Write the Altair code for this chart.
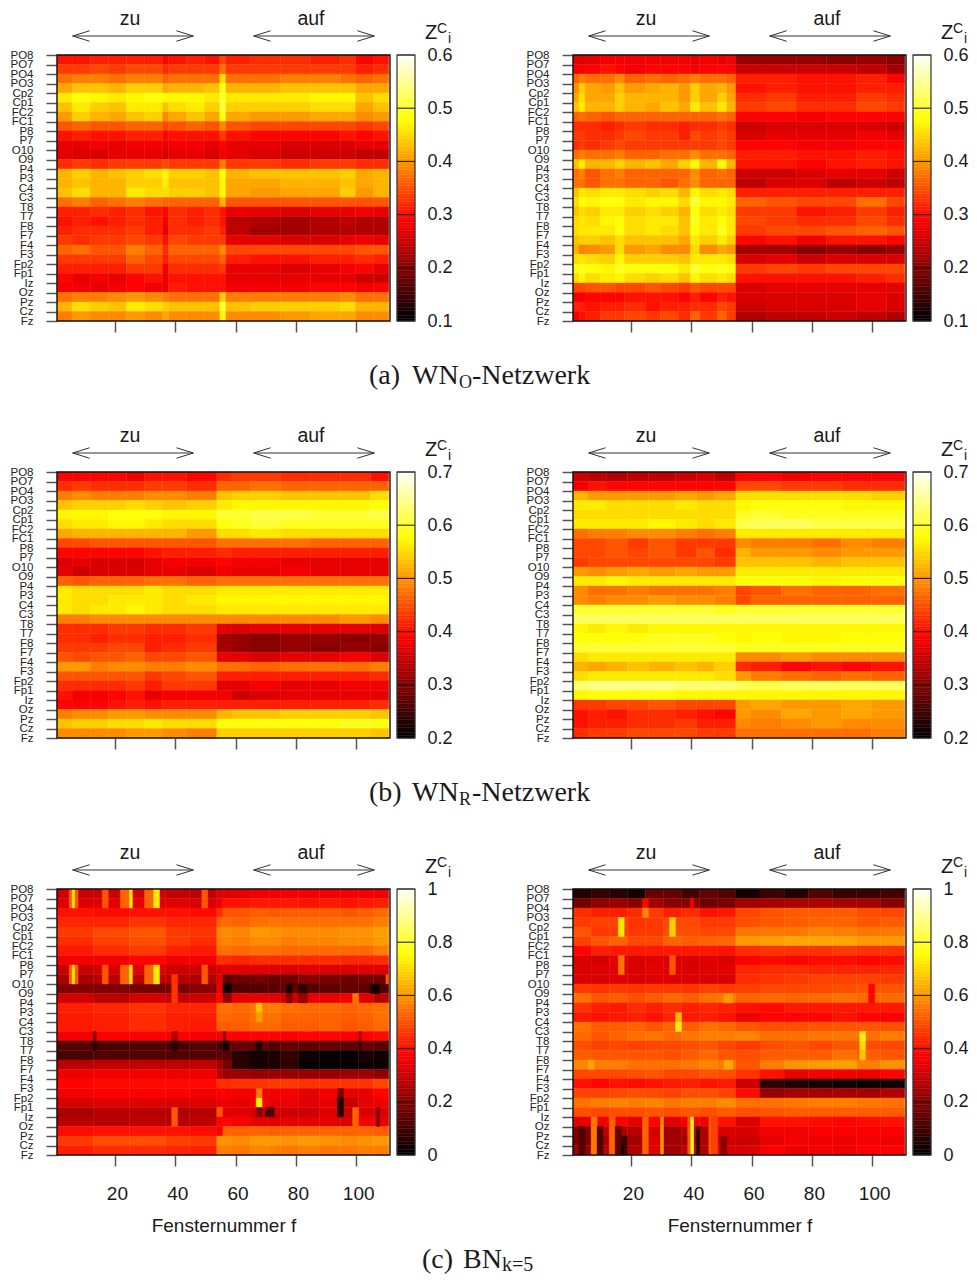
import altair as alt
import numpy as np
import pandas as pd

CHANNELS = ["PO8","PO7","PO4","PO3","Cp2","Cp1","FC2","FC1","P8","P7","O10","O9","P4","P3","C4","C3",
            "T8","T7","F8","F7","F4","F3","Fp2","Fp1","Iz","Oz","Pz","Cz","Fz"]
X_TICKS = [20, 40, 60, 80, 100]
HOT_STOPS = [0, 0.375, 0.75, 1]
HOT_COLORS = ["#000000", "#ff0000", "#ffff00", "#ffffff"]

# Window-block start numbers per panel, then one row of values (in hundredths) per block.
A1_EDGES = [1,6,12,18,24,30,36,38,44,50,55,57,65,75,85,95,100,106,111]
A1 = [
[30,30,31,31,31,31,29,30,31,30,34,31,32,32,31,32,29,30],
[33,33,34,33,34,34,32,33,33,33,37,33,33,33,33,33,31,32],
[37,38,38,37,38,38,36,37,37,37,45,37,37,38,38,37,36,37],
[41,43,43,42,44,44,41,42,42,43,48,42,42,43,43,43,41,41],
[46,48,47,46,47,48,47,47,47,46,50,46,46,46,47,47,43,45],
[43,46,44,43,46,46,43,45,46,44,50,44,44,44,45,45,41,43],
[40,44,42,41,43,44,39,41,43,41,48,41,40,40,41,41,39,40],
[35,36,35,35,36,36,34,35,36,35,39,35,34,34,34,34,33,34],
[30,31,30,30,31,31,29,30,30,30,33,30,29,29,29,30,29,30],
[27,27,28,27,28,28,27,28,28,27,29,27,27,26,26,26,27,27],
[27,26,26,27,27,27,26,27,27,26,28,27,26,25,25,25,24,24],
[32,33,32,33,33,33,34,33,33,33,38,33,33,32,33,33,32,32],
[42,44,42,43,44,45,47,44,44,43,48,42,43,43,43,44,41,42],
[42,43,42,42,44,44,46,43,43,43,47,41,41,42,42,43,41,42],
[43,45,42,42,46,45,45,44,44,43,47,41,40,41,41,44,40,42],
[37,38,36,37,38,37,36,36,36,36,42,35,35,35,35,35,35,35],
[31,31,32,31,32,30,29,32,31,32,30,27,27,26,27,27,28,27],
[30,31,30,31,32,31,28,32,31,32,30,24,23,22,23,24,23,23],
[31,32,32,32,33,31,27,32,32,33,31,24,22,22,23,23,23,23],
[33,32,33,33,34,33,30,34,33,33,33,27,27,26,26,27,28,27],
[36,37,35,35,38,36,32,36,36,36,39,34,34,34,34,34,35,35],
[33,33,33,33,36,34,31,34,34,34,36,31,30,30,31,31,32,31],
[31,31,31,31,33,33,28,32,32,32,33,27,27,26,27,28,29,27],
[29,27,28,27,29,30,27,30,30,30,30,27,27,27,27,27,25,25],
[28,28,27,28,29,28,27,31,30,30,30,28,28,28,29,29,28,29],
[37,38,38,39,40,39,38,37,37,37,44,38,38,38,38,39,37,37],
[42,45,44,43,46,45,44,43,43,43,50,43,44,44,44,45,42,42],
[38,40,39,39,40,39,41,39,39,39,47,39,39,40,41,41,39,39],
]
A2_EDGES = [1,3,5,10,15,18,25,30,36,40,43,49,52,55,65,75,85,95,105,111]
A2 = [
[27,26,27,28,28,28,28,28,28,27,28,27,28,21,21,21,20,21,20],
[28,28,29,30,29,28,29,29,29,28,29,29,29,25,25,25,25,24,22],
[36,38,37,37,39,36,37,36,37,38,37,37,36,31,31,30,30,31,29],
[39,44,41,40,43,40,41,42,40,44,41,42,40,30,31,30,30,31,31],
[41,45,41,41,44,42,42,42,40,44,41,44,41,32,33,31,31,33,32],
[43,46,42,42,44,42,41,43,41,46,43,46,42,33,34,32,32,34,33],
[36,37,36,35,36,36,36,36,36,36,36,37,36,29,29,28,29,29,29],
[32,32,32,31,32,33,32,32,31,32,32,33,32,25,26,26,26,26,25],
[33,33,32,32,33,34,33,33,31,34,33,34,33,26,27,27,27,28,27],
[32,33,32,33,34,33,33,33,33,33,33,34,33,29,29,28,28,29,29],
[37,38,37,37,38,36,36,37,37,39,37,37,36,31,31,30,30,31,30],
[43,46,42,42,44,42,43,41,44,47,42,47,42,30,30,29,30,31,30],
[37,38,35,37,38,36,36,36,36,39,36,37,36,25,25,26,27,27,25],
[37,37,35,37,37,36,36,35,37,39,36,36,36,24,26,26,24,25,24],
[43,46,45,46,46,45,44,45,42,47,45,46,45,31,31,31,31,31,31],
[45,48,47,48,48,46,47,47,45,50,47,47,46,36,35,34,34,37,34],
[43,45,44,46,46,44,45,44,42,48,45,46,45,33,33,30,31,33,31],
[45,46,45,47,48,45,46,46,43,49,46,48,46,34,33,32,32,34,32],
[45,46,46,46,48,45,46,45,43,48,46,49,46,33,34,34,35,36,35],
[43,44,44,43,45,43,43,43,41,46,44,46,44,29,30,28,30,30,29],
[42,38,39,40,45,40,41,39,39,45,39,41,40,22,22,20,21,20,21],
[45,46,45,44,47,44,44,44,43,46,46,46,45,26,27,25,26,26,26],
[48,49,48,47,49,48,48,48,46,50,48,49,48,33,34,33,34,34,34],
[45,47,45,46,47,45,44,45,43,47,45,46,45,30,30,30,30,31,32],
[34,34,35,35,34,34,35,34,33,35,34,34,34,26,27,27,27,27,27],
[28,28,29,29,29,30,30,30,29,31,29,31,30,26,26,26,26,27,26],
[31,31,30,31,31,32,30,31,31,32,32,34,33,25,26,26,26,27,26],
[28,30,31,33,33,34,33,34,32,36,33,36,33,23,24,24,25,24,23],
]
B1_EDGES = [1,6,12,18,24,30,36,44,54,59,65,75,85,95,105,111]
B1 = [
[39,39,39,39,38,40,40,39,42,43,43,42,42,42,40],
[42,43,42,42,42,43,43,42,46,46,47,46,46,46,46],
[48,49,48,48,48,49,49,48,53,54,54,53,53,53,55],
[53,54,54,54,55,54,53,54,56,57,57,57,57,57,58],
[57,57,57,58,58,58,57,57,60,60,61,61,60,60,61],
[55,56,56,57,57,56,55,55,58,59,60,59,59,59,59],
[51,52,52,52,52,52,52,50,55,55,56,55,55,55,55],
[44,44,45,45,45,45,45,45,47,47,47,47,46,46,46],
[39,39,39,39,39,40,41,41,42,41,41,41,41,41,41],
[36,37,36,36,36,37,38,38,39,38,38,37,37,37,37],
[37,35,36,36,36,37,37,36,38,37,37,38,37,37,37],
[46,45,46,46,46,47,47,46,47,47,47,47,47,47,47],
[56,55,55,55,55,56,55,55,56,56,56,56,56,56,56],
[56,55,55,56,56,56,55,56,57,57,57,57,57,57,57],
[56,55,56,56,57,56,55,55,56,56,56,56,56,56,56],
[48,48,49,49,49,49,49,49,49,49,49,49,49,50,49],
[42,42,42,43,43,42,42,43,37,36,37,37,37,37,36],
[42,42,41,42,42,41,41,42,32,31,30,31,31,30,31],
[43,43,43,44,44,41,42,43,32,31,30,31,30,31,30],
[45,44,45,45,46,44,44,45,37,37,36,37,37,38,36],
[50,50,48,49,49,48,48,49,47,47,46,47,47,47,48],
[45,45,45,45,45,43,44,45,41,41,41,41,41,41,42],
[42,42,42,42,43,41,43,43,37,37,38,37,37,38,38],
[40,38,38,39,40,37,38,38,38,35,36,37,37,37,37],
[39,39,39,40,41,40,41,41,41,41,41,41,41,41,42],
[48,49,49,50,50,49,49,49,52,53,53,54,54,54,53],
[53,54,54,55,55,56,55,55,58,58,58,58,58,59,58],
[49,49,49,49,50,50,49,48,54,54,54,54,54,54,53],
]
B2_EDGES = [1,6,12,19,26,35,42,48,55,60,70,80,90,100,111]
B2 = [
[35,34,33,34,34,35,36,34,39,39,38,39,39,39],
[38,40,39,39,39,39,39,39,44,44,43,43,42,42],
[52,50,50,50,50,51,50,51,55,55,55,55,55,54],
[56,56,55,55,55,56,55,55,57,58,58,58,57,57],
[55,55,55,55,55,55,55,55,59,60,59,59,59,59],
[56,56,56,56,57,56,55,56,61,62,62,61,61,61],
[47,48,48,49,49,48,47,48,56,56,56,56,56,56],
[44,44,45,43,45,43,43,43,49,48,48,47,49,48],
[44,44,45,44,45,43,45,42,52,50,50,49,50,50],
[43,44,44,44,44,44,44,43,53,53,53,52,53,53],
[50,49,50,51,50,51,50,50,56,56,56,56,56,56],
[56,56,57,56,56,56,56,56,58,58,58,57,58,58],
[49,47,47,48,47,47,47,48,44,45,47,46,46,47],
[49,48,49,49,50,49,49,48,44,46,46,46,46,46],
[60,60,60,60,60,60,60,59,60,60,60,60,60,60],
[62,62,62,62,62,62,62,62,62,62,62,62,62,62],
[57,56,57,56,57,57,57,57,57,57,57,57,57,57],
[58,58,58,58,59,59,59,58,57,58,57,57,58,58],
[60,60,60,60,60,60,60,60,59,59,59,59,59,59],
[55,56,56,56,56,56,56,56,49,49,50,49,49,49],
[52,51,52,53,52,53,52,54,42,41,39,40,39,40],
[55,56,56,56,56,56,56,55,50,48,47,46,47,46],
[63,64,64,64,64,63,63,63,62,61,62,62,62,62],
[57,58,58,58,58,57,57,57,57,57,57,57,57,57],
[43,43,44,44,45,44,44,44,50,51,50,50,51,50],
[40,41,40,42,42,41,40,39,50,49,51,50,51,50],
[40,41,41,42,42,43,41,41,49,48,49,50,49,49],
[42,43,43,44,44,44,43,43,47,47,47,47,47,48],
]
C1_EDGES = [1,13,25,37,45,54,56,59,65,71,75,81,88,95,101,106,111]
C1 = [
[30,30,31,29,28,33,33,34,35,36,36,36,36,36,36,36],
[32,33,33,33,32,35,40,40,41,41,41,40,41,40,41,42],
[40,39,40,40,39,44,50,50,51,50,51,51,51,50,51,53],
[43,43,45,43,43,52,53,52,54,55,54,54,54,54,54,56],
[46,48,50,46,45,57,58,57,60,59,58,58,58,59,59,61],
[44,47,49,46,44,56,57,56,58,58,56,57,57,58,58,60],
[41,44,46,42,41,53,54,53,54,54,53,53,53,53,53,56],
[36,36,38,36,36,44,44,43,44,44,44,44,44,43,43,44],
[29,31,33,30,30,32,33,33,33,33,32,33,32,32,33,33],
[25,27,28,27,26,33,14,16,17,15,16,20,18,16,17,17],
[19,19,17,18,20,35,2,12,12,13,15,13,14,15,14,12],
[31,27,31,29,30,38,22,34,34,33,30,34,34,36,33,27],
[42,43,45,43,43,54,54,53,55,56,54,53,53,52,53,54],
[41,42,44,42,42,53,53,52,54,54,52,52,52,51,52,54],
[41,42,44,42,41,51,51,51,53,53,51,51,52,50,51,53],
[36,37,37,37,36,36,38,37,38,38,37,38,38,37,38,39],
[13,11,12,11,13,10,16,15,15,12,15,14,15,14,15,13],
[11,12,12,12,12,14,13,6,3,4,8,2,1,1,4,2],
[27,28,28,28,28,24,18,6,3,4,7,1,1,1,2,2],
[35,36,36,35,35,27,22,23,22,22,22,22,22,23,23,21],
[38,39,39,39,39,44,44,45,45,46,46,45,45,45,45,48],
[36,37,37,37,36,37,37,36,36,36,36,34,36,34,34,38],
[32,33,33,32,33,35,35,34,36,34,35,33,34,29,34,35],
[25,27,27,26,27,50,33,33,31,30,30,30,33,30,32,32],
[27,27,28,27,28,38,38,37,34,33,34,34,34,32,36,35],
[39,40,40,40,39,37,52,52,52,51,52,52,52,52,52,51],
[46,49,49,47,46,59,59,58,60,60,59,60,59,58,59,60],
[42,44,44,43,42,56,56,55,57,56,55,56,55,55,56,56],
]
# Single cells and narrow stripes: first row, last row, first window, last window, value.
C1_CELLS = [
(1,2,5,5,50),(1,2,6,6,72),(1,2,7,7,50),(1,2,16,17,50),(1,2,22,24,52),(1,2,25,25,72),(1,2,30,32,52),(1,2,33,34,72),(1,2,49,50,50),
(9,10,5,5,50),(9,10,6,6,72),(9,10,7,7,50),(9,10,16,17,50),(9,10,22,24,52),(9,10,25,25,72),(9,10,30,32,52),(9,10,33,34,72),(9,10,49,50,50),
(10,12,39,40,45),(24,25,39,40,50),(16,16,13,13,20),(17,17,13,13,5),(16,16,39,40,25),(17,17,39,40,6),
(16,16,56,56,22),(17,17,56,57,3),(16,16,101,101,25),(17,17,101,101,8),(17,17,67,68,5),
(22,22,67,68,55),(23,23,67,68,72),(24,24,67,68,20),(13,13,67,68,66),(14,14,67,68,60),
(11,11,77,78,5),(11,11,81,83,7),(12,12,77,78,20),(12,12,81,83,22),(12,12,99,100,55),(11,11,105,107,3),
(22,23,94,95,18),(23,24,94,95,5),(24,25,99,100,52),(24,25,107,107,18),(10,10,110,110,50),(24,24,70,72,12),
]
C2_EDGES = [1,7,13,19,25,31,37,43,49,55,63,71,79,87,95,103,111]
C2 = [
[5,8,6,3,15,15,10,15,12,3,9,5,12,8,8,10],
[17,21,22,20,24,20,20,16,18,24,24,25,25,24,24,20],
[44,42,42,44,46,42,44,40,41,48,50,51,51,51,49,48],
[46,47,47,45,46,48,48,46,46,49,50,51,52,52,50,51],
[50,46,46,46,46,49,49,48,48,55,55,55,57,56,55,55],
[47,50,52,48,48,52,51,52,53,60,61,62,62,62,60,60],
[38,42,41,41,41,41,41,41,40,44,45,45,45,46,45,45],
[32,31,34,32,33,32,32,33,32,37,39,38,39,39,38,39],
[32,32,33,32,34,33,32,33,33,43,44,44,43,43,43,43],
[32,32,33,32,33,33,32,32,32,44,45,46,47,47,47,46],
[46,45,46,45,46,46,45,47,46,47,48,48,48,49,50,50],
[54,50,51,49,51,53,51,54,55,52,53,52,53,54,53,53],
[45,42,41,44,42,44,42,43,42,40,39,41,41,41,41,41],
[41,40,41,42,40,43,41,42,40,35,38,38,38,40,38,37],
[54,51,51,52,50,52,51,54,53,50,49,49,50,50,50,49],
[53,50,52,54,55,53,55,56,56,57,54,54,55,55,54,56],
[49,47,48,47,48,48,49,50,48,46,49,50,48,50,49,48],
[51,50,50,50,50,49,51,53,50,49,51,51,51,54,51,50],
[57,56,56,54,54,54,55,57,55,50,56,59,60,61,56,59],
[48,48,48,49,50,48,48,50,49,45,40,34,36,36,35,38],
[40,38,40,39,40,41,42,40,41,30,7,5,4,3,2,3],
[47,47,48,49,48,47,49,49,47,39,22,24,24,24,24,26],
[54,56,57,56,57,55,56,56,58,54,54,55,56,56,55,54],
[49,48,49,49,50,49,50,49,51,49,50,51,51,51,51,51],
[34,36,37,33,38,33,36,35,40,32,40,40,39,38,39,40],
[19,29,25,27,31,24,27,25,32,32,36,36,37,37,37,37],
[18,25,21,24,32,24,24,26,30,30,34,36,35,35,36,35],
[22,28,23,26,33,24,28,26,32,32,37,35,36,35,37,37],
]
C2_CELLS = [
(25,28,7,8,55),(25,28,13,14,52),(25,28,24,25,52),(25,28,30,30,60),(25,28,39,39,50),(25,28,40,40,78),(25,28,46,46,50),(25,28,47,48,47),
(26,28,3,4,12),(26,28,9,10,12),(26,28,15,16,15),(27,27,17,18,10),(28,28,17,17,0),(28,28,18,18,10),(26,28,42,42,5),(27,28,50,51,20),
(2,2,24,25,38),(3,3,24,25,58),(2,2,40,40,38),(4,5,16,17,72),(4,5,33,34,68),(8,9,16,17,55),(8,9,33,34,50),
(14,14,35,36,64),(15,15,35,36,72),(16,16,96,97,72),(17,17,96,97,70),(18,18,96,97,66),(11,12,99,100,38),
(19,19,51,53,62),(12,12,51,53,60),(19,19,6,7,62),
]

PANELS = [
    dict(edges=A1_EDGES, rows=A1, cells=[], lo=0.1, hi=0.6, ticks=[0.1,0.2,0.3,0.4,0.5,0.6], caption=[("(a)",312,28),("WN",355,28),("O",402,18,4),("-Netzwerk",415,28)], capy=329),
    dict(edges=A2_EDGES, rows=A2, cells=[], lo=0.1, hi=0.6, ticks=[0.1,0.2,0.3,0.4,0.5,0.6], caption=[], capy=329),
    dict(edges=B1_EDGES, rows=B1, cells=[], lo=0.2, hi=0.7, ticks=[0.2,0.3,0.4,0.5,0.6,0.7], caption=[("(b)",312,28),("WN",355,28),("R",402,18,4),("-Netzwerk",415,28)], capy=329),
    dict(edges=B2_EDGES, rows=B2, cells=[], lo=0.2, hi=0.7, ticks=[0.2,0.3,0.4,0.5,0.6,0.7], caption=[], capy=329),
    dict(edges=C1_EDGES, rows=C1, cells=C1_CELLS, lo=0.0, hi=1.0, ticks=[0,0.2,0.4,0.6,0.8,1], caption=[("(c)",365,28),("BN",406,28),("k=5",445,20,3)], capy=379),
    dict(edges=C2_EDGES, rows=C2, cells=C2_CELLS, lo=0.0, hi=1.0, ticks=[0,0.2,0.4,0.6,0.8,1], caption=[], capy=379),
]

ARROW_X = [[6,46],[6,11.6],[6,11.6],[40.4,46],[40.4,46],[66,106],[66,71.6],[66,71.6],[100.4,106],[100.4,106]]
ARROW_Y = [[-2,-2],[-2,-2.55],[-2,-1.45],[-2.55,-2],[-1.45,-2],[-2,-2],[-2,-2.55],[-2,-1.45],[-2.55,-2],[-1.45,-2]]

W_HEAT, W_BAR_L, W_FULL, H = 333, 340, 358, 266
SANS = "Liberation Sans"
SERIF = "Liberation Serif"
XS = alt.Scale(domain=[0.8, 111.2], range=[0, W_HEAT], nice=False, zero=False)
YS = alt.Scale(domain=[28, 0], nice=False, zero=False)
NAMES = "[" + ",".join(f"'{c}'" for c in CHANNELS) + "]"


def label(txt, x, y, size, font=SANS):
    return alt.Chart(pd.DataFrame({"t": [txt]})).mark_text(
        align="left", baseline="alphabetic", font=font, fontSize=size, color="#1a1a1a"
    ).encode(x=alt.value(x), y=alt.value(y), text="t:N")


def panel(p, bottom):
    recs = []
    e = p["edges"]
    for r, row in enumerate(p["rows"]):
        for i, val in enumerate(row):
            recs.append(dict(a=e[i] - 0.2, b=e[i + 1] - 0.2, r=r, r2=r + 1, v=val / 100))
    for r1, r2, c1, c2, val in p["cells"]:
        recs.append(dict(a=c1 - 0.2, b=c2 + 0.8, r=r1 - 1, r2=r2, v=val / 100))
    df = pd.DataFrame(recs)
    lo, hi = p["lo"], p["hi"]
    cs = alt.Scale(domain=[lo + s * (hi - lo) for s in HOT_STOPS], range=HOT_COLORS, interpolate="rgb", zero=False, nice=False)

    xaxis = alt.Axis(values=X_TICKS, domain=False, grid=False, tickSize=11, tickWidth=1.5, tickColor="#555555",
                     labels=bottom, labelFontSize=19, labelFont=SANS, labelColor="#1a1a1a", labelPadding=18, labelOffset=2,
                     title="Fensternummer f" if bottom else None, titleFontSize=19, titleFont=SANS,
                     titleFontWeight="normal", titleColor="#1a1a1a", titlePadding=13)
    yaxis = alt.Axis(values=list(range(29)), domain=False, grid=False, tickSize=11, tickWidth=1.5, tickColor="#555555",
                     labelExpr=f"{NAMES}[datum.value]", labelFontSize=11.5, labelFont=SANS, labelColor="#222222",
                     labelPadding=13, labelOverlap=False, labelFlush=False, title=None)
    heat = alt.Chart(df).mark_rect(strokeWidth=0.4).encode(
        x=alt.X("a:Q", scale=XS, axis=xaxis), x2="b:Q",
        y=alt.Y("r:Q", scale=YS, axis=yaxis), y2="r2:Q",
        color=alt.Color("v:Q", scale=cs, legend=None),
        stroke=alt.Stroke("v:Q", scale=cs, legend=None),
    )
    frame = alt.Chart(pd.DataFrame({"a": [0.8], "b": [111.2], "r": [0], "r2": [28]})).mark_rect(
        fill="transparent", stroke="#111111", strokeWidth=1.4
    ).encode(x=alt.X("a:Q", scale=XS, axis=None), x2="b:Q", y=alt.Y("r:Q", scale=YS, axis=None), y2="r2:Q")

    seg = pd.DataFrame([dict(id=i, x=xv, y=yv) for i, (xs, ys) in enumerate(zip(ARROW_X, ARROW_Y)) for xv, yv in zip(xs, ys)])
    arrows = alt.Chart(seg).mark_line(color="#333333", strokeWidth=1).encode(
        x=alt.X("x:Q", scale=XS, axis=None), y=alt.Y("y:Q", scale=YS, axis=None), detail="id:N")
    words = alt.Chart(pd.DataFrame({"x": [25, 85], "y": [-3.16, -3.16], "t": ["zu", "auf"]})).mark_text(
        fontSize=19.5, font=SANS, color="#1a1a1a", baseline="alphabetic", align="center"
    ).encode(x=alt.X("x:Q", scale=XS, axis=None), y=alt.Y("y:Q", scale=YS, axis=None), text="t:N")

    vs = alt.Scale(domain=[lo, hi], nice=False, zero=False)
    levels = np.linspace(lo, hi, 101)
    gdf = pd.DataFrame({"v": levels[:-1], "v2": levels[1:]})
    bar = alt.Chart(gdf).mark_rect(strokeWidth=0.4).encode(
        x=alt.value(W_BAR_L), x2=alt.value(W_FULL),
        y=alt.Y("v:Q", scale=vs, axis=alt.Axis(values=p["ticks"], format="~g", orient="right", domain=False, ticks=False, grid=False,
                                                labelFontSize=18, labelFont=SANS, labelColor="#1a1a1a", labelPadding=12, title=None,
                                                labelFlush=False, labelOverlap=False)),
        y2="v2:Q",
        color=alt.Color("v:Q", scale=cs, legend=None),
        stroke=alt.Stroke("v:Q", scale=cs, legend=None),
    )
    bticks = alt.Chart(pd.DataFrame({"v": p["ticks"]})).mark_rule(color="#111111", strokeWidth=1).encode(
        x=alt.value(W_BAR_L), x2=alt.value(W_FULL), y=alt.Y("v:Q", scale=vs, axis=None))
    bframe = alt.Chart(pd.DataFrame({"v": [lo], "v2": [hi]})).mark_rect(
        fill="transparent", stroke="#333333", strokeWidth=1.2
    ).encode(x=alt.value(W_BAR_L), x2=alt.value(W_FULL), y=alt.Y("v:Q", scale=vs, axis=None), y2="v2:Q")

    layers = [heat, frame, arrows, words, bar, bticks, bframe,
              label("Z", W_HEAT + 35, -16, 20), label("C", W_HEAT + 47, -22, 14), label("i", W_HEAT + 58, -12, 14)]
    for item in p["caption"]:
        drop = item[3] if len(item) > 3 else 0
        layers.append(label(item[0], item[1], p["capy"] + drop, item[2], SERIF))
    return alt.layer(*layers).resolve_scale(x="independent", y="independent").properties(width=W_FULL, height=H)


charts = [panel(p, i >= 4) for i, p in enumerate(PANELS)]
chart = alt.concat(*charts, columns=2, spacing={"row": 151, "column": 158}, bounds="flush").resolve_scale(
    color="independent", stroke="independent"
).properties(
    padding={"left": 1, "top": 0, "right": 0, "bottom": 0}
).configure_view(stroke=None).configure_axis(labelLimit=0)
chart.save("out.html", embed_options={"renderer": "svg", "actions": False})
